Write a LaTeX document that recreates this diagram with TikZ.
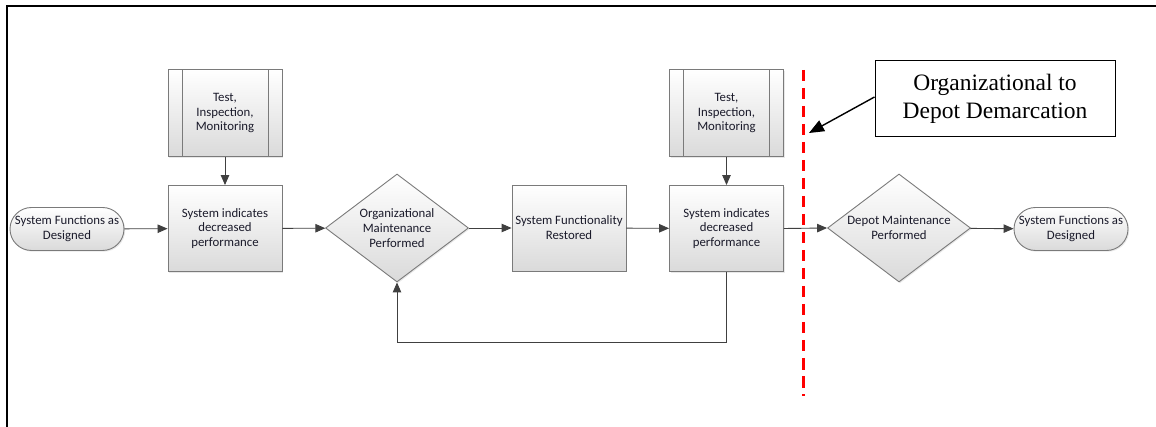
\documentclass[tikz,border=0pt]{standalone}
\usepackage{fontspec}
\setmainfont{Liberation Serif}
\newfontfamily\flowfont{Carlito}
\usetikzlibrary{arrows.meta,shapes.geometric,shapes.misc,shadows}
\definecolor{edgegray}{HTML}{7A7A7A}
\definecolor{flowline}{HTML}{404040}
\definecolor{fillbottom}{HTML}{DADADA}
\definecolor{flowink}{HTML}{1A1A2A}
\begin{document}
\begin{tikzpicture}[x=1pt,y=-1pt,
  flowtext/.style={font=\flowfont\fontsize{12.8}{14.8}\selectfont, text=flowink, align=center},
  shaded/.style={draw=edgegray, line width=0.9pt, top color=white, bottom color=fillbottom,
    drop shadow={opacity=0.18, shadow xshift=1.2pt, shadow yshift=-1.2pt}},
  processbox/.style={shaded, flowtext, rectangle, minimum width=114pt, minimum height=86pt, inner sep=1pt},
  predefbox/.style={processbox, minimum height=87pt,
    path picture={
      \draw[edgegray, line width=0.9pt]
        ([xshift=14pt]path picture bounding box.south west) -- ([xshift=14pt]path picture bounding box.north west)
        ([xshift=-14pt]path picture bounding box.south east) -- ([xshift=-14pt]path picture bounding box.north east);}},
  decision/.style={shaded, flowtext, diamond, shape aspect=1.3, inner sep=0pt, minimum width=143pt, minimum height=108pt},
  terminal/.style={shaded, flowtext, rounded rectangle, minimum width=115pt, minimum height=43pt, inner sep=0.5pt},
  flow/.style={draw=flowline, line width=0.9pt, -{Triangle[length=10pt,width=8.5pt]}},
  callout/.style={draw=black, line width=1pt, rectangle, minimum width=240pt, minimum height=76pt,
    font=\fontsize{23.5}{28}\selectfont, align=center, fill=white}
]
\useasboundingbox (0,0) rectangle (1156,427);

% frame
\draw[black, line width=2pt] (7,427) -- (7,6.5) -- (1156,6.5);

% demarcation line
\draw[red, line width=3pt, dash pattern=on 11.5pt off 6.5pt] (803,70) -- (803,396);

% flow nodes
\node[terminal] (start) at (67,229) {System Functions as\\Designed};
\node[predefbox] (tim1) at (225,113) {Test,\\Inspection,\\Monitoring};
\node[processbox] (sys1) at (225,228.5) {System indicates\\decreased\\performance};
\node[decision] (orgm) at (397,228) {Organizational\\Maintenance\\Performed};
\node[processbox] (rest) at (569,228) {System Functionality\\Restored};
\node[predefbox] (tim2) at (726.5,113) {Test,\\Inspection,\\Monitoring};
\node[processbox] (sys2) at (726.5,228.5) {System indicates\\decreased\\performance};
\node[decision] (depm) at (899,228) {Depot Maintenance\\Performed};
\node[terminal] (finish) at (1071,229) {System Functions as\\Designed};

% callout
\node[callout] (note) at (995,99) {Organizational to\\Depot Demarcation};
\coordinate (marker) at (809,133);

% connectors
\draw[flow] (start) -- (sys1);
\draw[flow] (tim1) -- (sys1);
\draw[flow] (sys1) -- (orgm);
\draw[flow] (orgm) -- (rest);
\draw[flow] (rest) -- (sys2);
\draw[flow] (tim2) -- (sys2);
\draw[flow] (sys2.east) -- (depm.west);
\draw[flow] (depm) -- (finish);
\draw[flow] (sys2.south) -- ++(0,71) -| (orgm.south);
\draw[black, line width=1.4pt, -{Triangle[length=15pt,width=12pt]}] (note.west |- 0,97) -- (marker);
\end{tikzpicture}
\end{document}
